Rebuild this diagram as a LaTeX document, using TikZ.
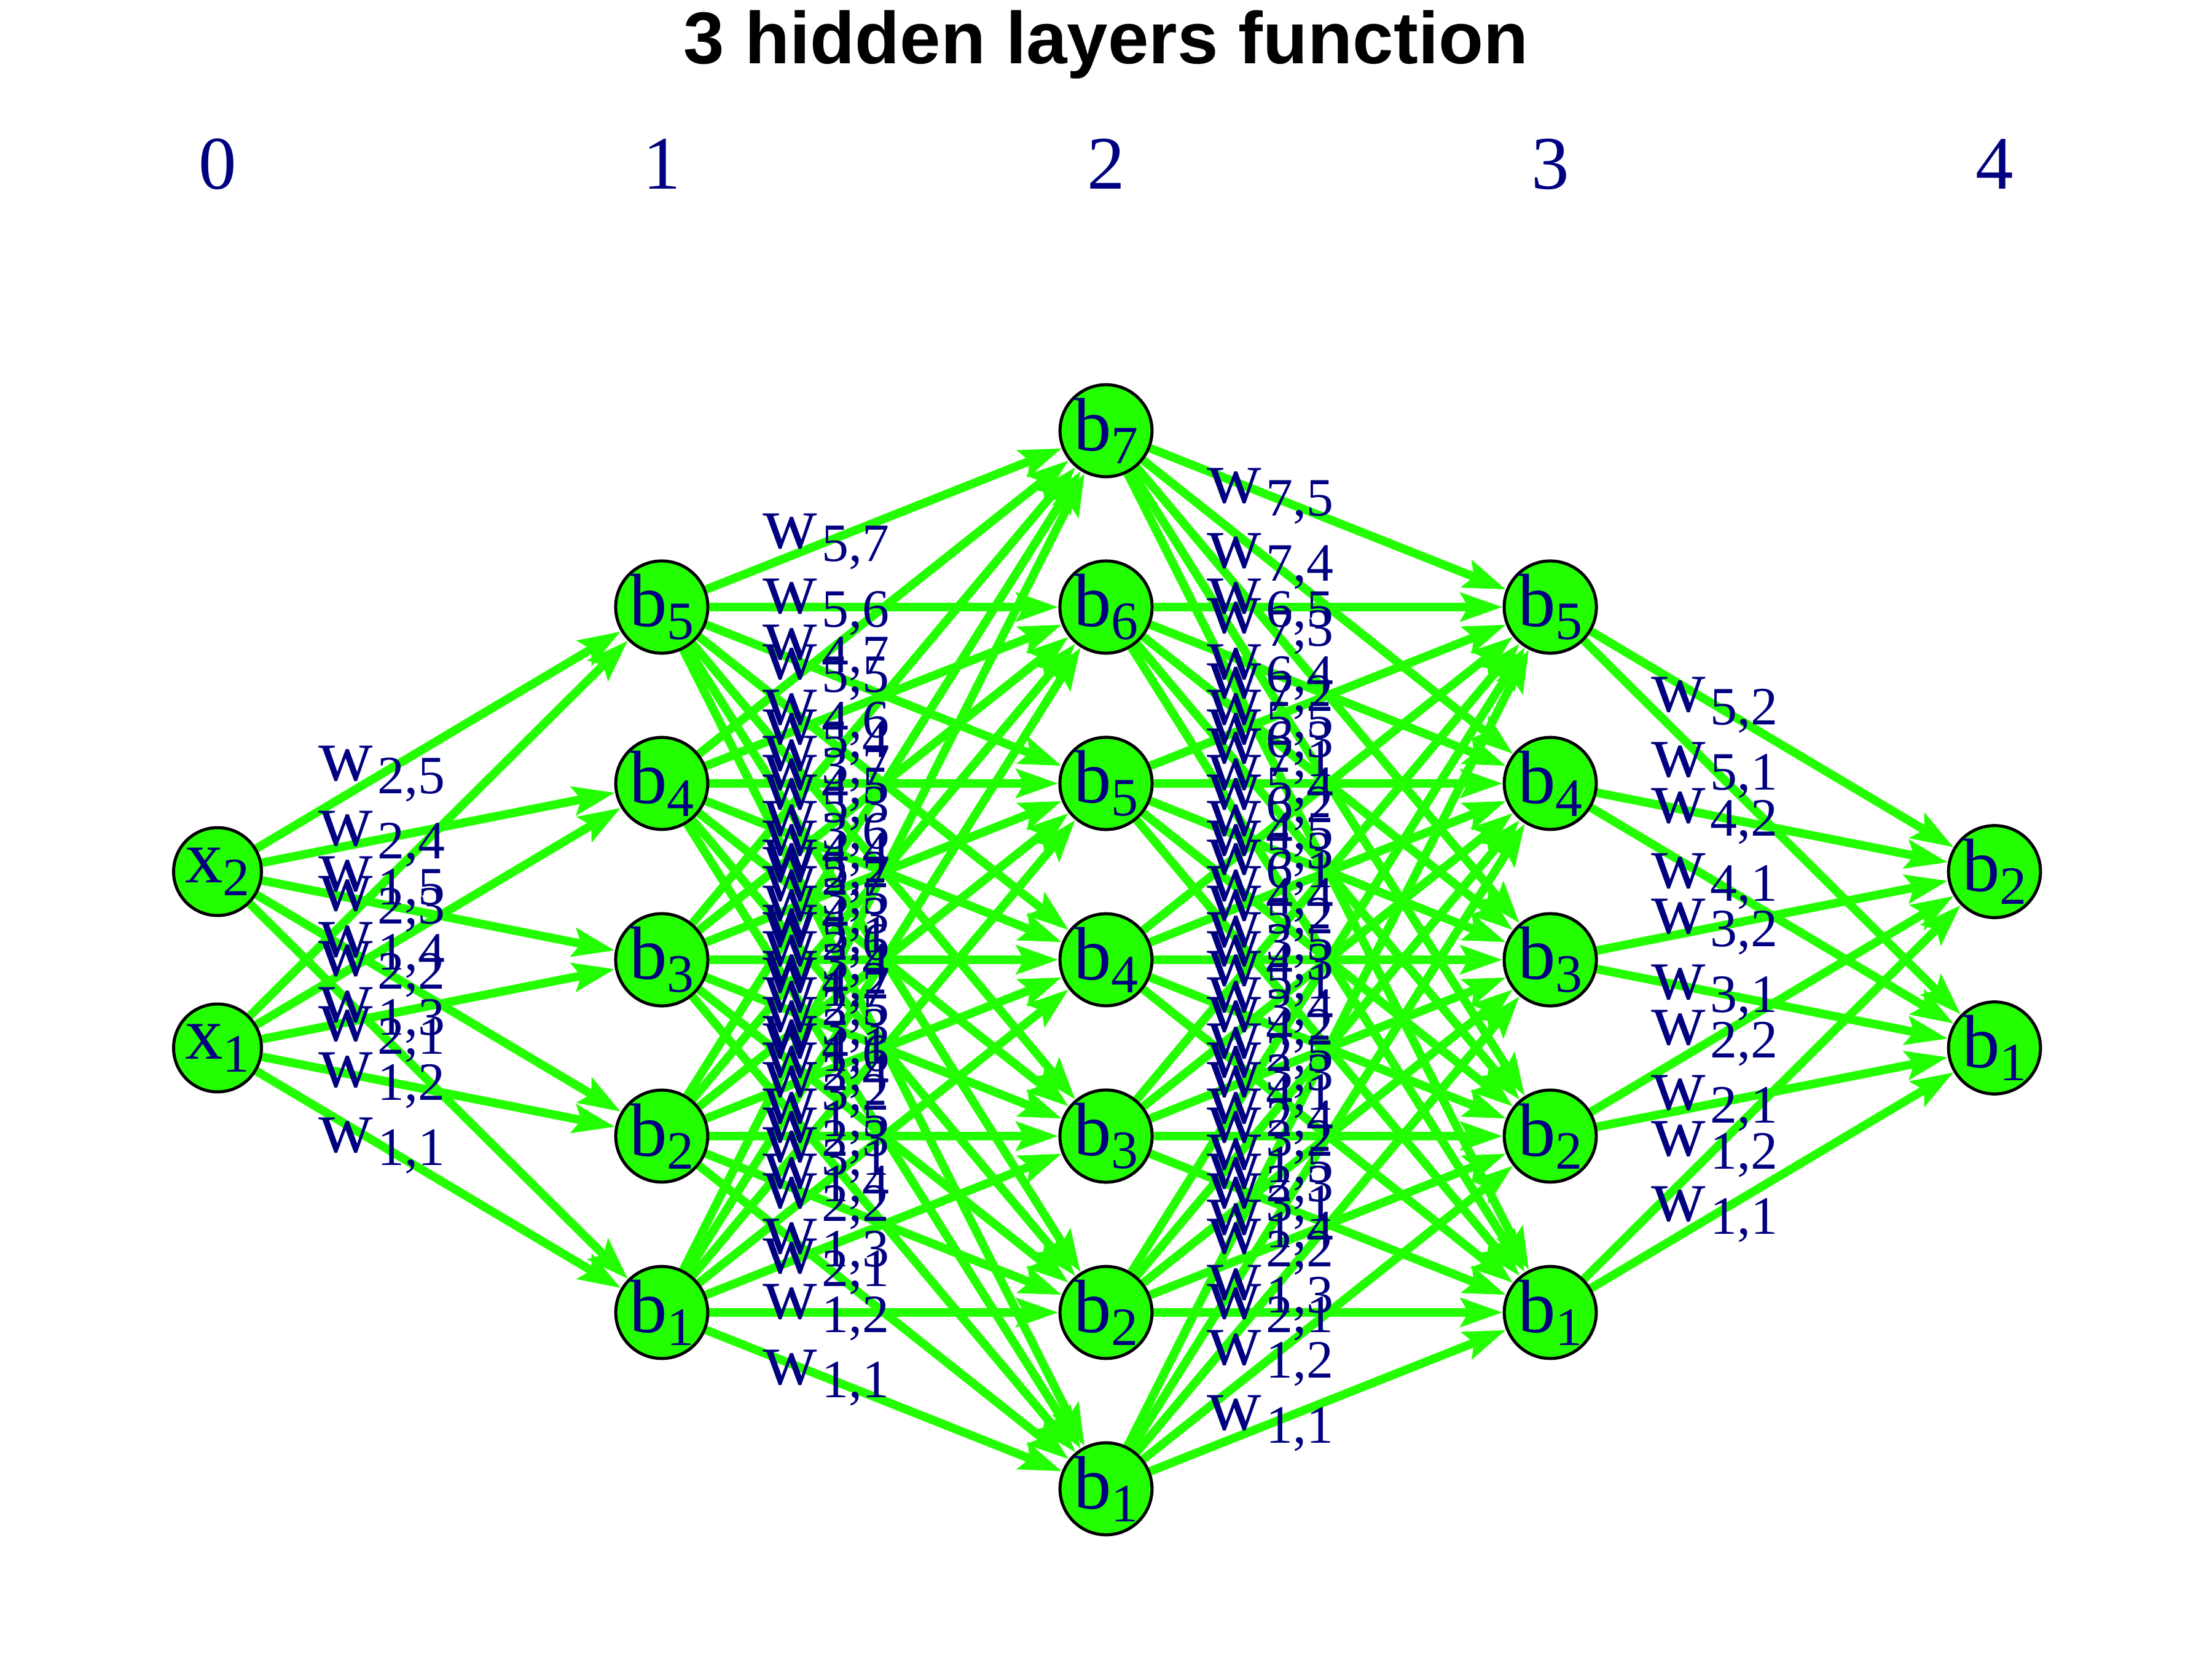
\documentclass[tikz,border=0pt]{standalone}
\usepackage{fontspec}
\setmainfont{Liberation Serif}
\newfontfamily\titlefont{Liberation Sans}
\usetikzlibrary{arrows.meta,backgrounds,calc}

\definecolor{netgreen}{RGB}{35,255,0}
\definecolor{labnavy}{RGB}{0,0,128}
\newcommand{\subsz}{\fontsize{25}{25}\selectfont}
\newcommand{\wlab}[2]{w\kern2pt\raisebox{-6pt}{\subsz #1,#2}}
\newcommand{\nlab}[2]{#1\raisebox{-6pt}{\subsz #2}}

\begin{document}
\begin{tikzpicture}[
    every node/.style={text=labnavy, font=\fontsize{35}{35}\selectfont},
    neuron/.style={circle, draw=black, line width=0.05cm, fill=netgreen, minimum size=1.43cm, inner sep=0pt},
    link/.style={draw=netgreen, line width=0.14cm, -{Stealth[length=0.68cm, width=0.46cm, inset=0.12cm]}},
    weight/.style={inner sep=0pt}
]
\useasboundingbox (0,0) rectangle (36,-27);

% Title and layer numbers
\node[anchor=base, text=black, font=\titlefont\bfseries\fontsize{34}{34}\selectfont] (title) at (18,-1.04) {3 hidden layers function};
\foreach \l in {0,...,4}
  \node[anchor=base] (layer\l) at ({3.54+7.23*\l}, -3.08) {\l};

% Neurons
\foreach \l/\n in {0/2,1/5,2/7,3/5,4/2}{
  \foreach \j in {1,...,\n}{
    \ifnum\l=0 \def\sym{x}\else\def\sym{b}\fi
    \node[neuron] (n\l-\j) at ({3.54+7.23*\l}, {-15.62+(\j-(\n+1)/2)*2.87}) {\nlab{\sym}{\j}};
  }
}

% Links
\begin{pgfonlayer}{background}
\foreach \l/\n/\m in {0/2/5,1/5/7,2/7/5,3/5/2}{
  \pgfmathtruncatemacro\k{\l+1}
  \foreach \i in {1,...,\n}
    \foreach \j in {1,...,\m}
      \draw[link] (n\l-\i) -- (n\k-\j);
}
\end{pgfonlayer}

% Weights
\foreach \l/\n/\m in {0/2/5,1/5/7,2/7/5,3/5/2}{
  \pgfmathtruncatemacro\k{\l+1}
  \foreach \i in {1,...,\n}
    \foreach \j in {1,...,\m}
      \node[weight] (w\l-\i-\j) at ($(n\l-\i)!0.37!(n\k-\j)$) {\wlab{\i}{\j}};
}

\end{tikzpicture}
\end{document}
